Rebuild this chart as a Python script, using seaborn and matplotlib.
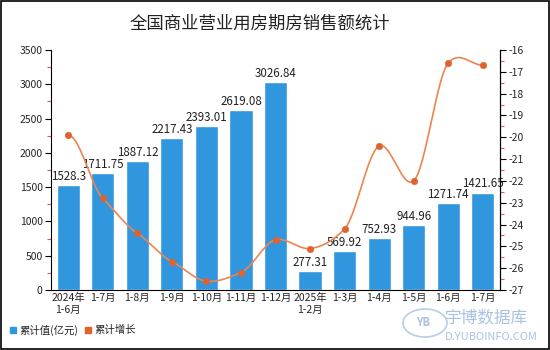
import numpy as np
import pandas as pd
import seaborn as sns
import matplotlib
matplotlib.use("Agg")
import matplotlib.pyplot as plt
from matplotlib.patches import Rectangle
from matplotlib.ticker import MultipleLocator

categories = ["2024年\n1-6月", "1-7月", "1-8月", "1-9月", "1-10月", "1-11月", "1-12月",
              "2025年\n1-2月", "1-3月", "1-4月", "1-5月", "1-6月", "1-7月"]
values = [1528.3, 1711.75, 1887.12, 2217.43, 2393.01, 2619.08, 3026.84,
          277.31, 569.92, 752.93, 944.96, 1271.74, 1421.65]
value_labels = ["1528.3", "1711.75", "1887.12", "2217.43", "2393.01", "2619.08", "3026.84",
                "277.31", "569.92", "752.93", "944.96", "1271.74", "1421.65"]
growth = [-19.9, -22.8, -24.4, -25.7, -26.6, -26.2, -24.7,
          -25.1, -24.2, -20.4, -22.0, -16.6, -16.7]

sns.set_theme(style="white")
plt.rcParams['font.family'] = ['Noto Sans CJK SC', 'DejaVu Sans']
plt.rcParams['axes.unicode_minus'] = False

BAR = "#3096de"
LINE = "#ec8452"
MARK = "#e0622f"
MINOR = "#e05555"

fig = plt.figure(figsize=(5.5, 3.5), dpi=100)
ax = fig.add_axes([51/550, 1-290/350, (500-51)/550, 240/350])

keys = [f"c{i:02d}" for i in range(len(categories))]
df = pd.DataFrame({"key": keys, "val": values})
sns.barplot(data=df, x="key", y="val", order=keys, ax=ax, color=BAR, width=0.67,
            saturation=1, errorbar=None)
ax.set_xticks(range(len(categories)))
ax.set_xticklabels(categories)
ax.set_xlabel("")
ax.set_ylabel("")
ax.set_ylim(0, 3500)
ax.set_xlim(-0.5, len(categories) - 0.5)
ax.yaxis.set_major_locator(MultipleLocator(500))
ax.yaxis.set_minor_locator(MultipleLocator(250))
ax.tick_params(axis="y", which="major", length=4, width=0.8, color="black",
               labelsize=7.5, pad=2, left=True)
ax.tick_params(axis="y", which="minor", length=3, width=0.8, color=MINOR, left=True)
ax.tick_params(axis="x", length=0, labelsize=7.5, pad=2)
ax.spines["top"].set_visible(False)
for s in ["left", "bottom", "right"]:
    ax.spines[s].set_color("black")
    ax.spines[s].set_linewidth(0.8)

for p, lab in zip(ax.patches, value_labels):
    ax.text(p.get_x() + p.get_width() / 2, p.get_height() + 30, lab,
            ha="center", va="bottom", fontsize=8.3, color="#222222")

ax2 = ax.twinx()
ax2.set_ylim(-27, -16)
ax2.yaxis.set_major_locator(MultipleLocator(1))
ax2.yaxis.set_minor_locator(MultipleLocator(0.5))
ax2.tick_params(axis="y", which="major", length=4, width=0.8, color="black",
                labelsize=7.5, pad=2, right=True)
ax2.tick_params(axis="y", which="minor", length=3, width=0.8, color=MINOR, right=True)
for s in ["top", "left", "bottom"]:
    ax2.spines[s].set_visible(False)
ax2.spines["right"].set_color("black")
ax2.spines["right"].set_linewidth(0.8)
ax2.grid(False)

# smooth curve through the points (cardinal spline with reduced tension), computed from the data
x = np.arange(len(growth), dtype=float)
y = np.array(growth, dtype=float)
k = 0.7
m = np.zeros_like(y)
m[1:-1] = k * (y[2:] - y[:-2]) / 2
xs, ys = [], []
t = np.linspace(0, 1, 24)
h00 = 2*t**3 - 3*t**2 + 1
h10 = t**3 - 2*t**2 + t
h01 = -2*t**3 + 3*t**2
h11 = t**3 - t**2
for i in range(len(y) - 1):
    xs.extend(x[i] + t)
    ys.extend(h00*y[i] + h10*m[i] + h01*y[i+1] + h11*m[i+1])
ax2.plot(xs, ys, color=LINE, lw=1.2, zorder=3)
sns.scatterplot(x=x, y=y, ax=ax2, color=MARK, s=22, edgecolor=MARK, zorder=4, legend=False)
ax2.set_xlim(-0.5, len(categories) - 0.5)

fig.text(260/550, 1-24/350, "全国商业营业用房期房销售额统计", ha="center", va="center",
         fontsize=12.5, color="#222222")

# legend
fig.patches.append(Rectangle((10/550, 1-333/350), 6/550, 6/350, transform=fig.transFigure,
                             color=BAR, figure=fig))
fig.text(19/550, 1-330/350, "累计值(亿元)", ha="left", va="center", fontsize=7.5, color="#222222")
fig.patches.append(Rectangle((85/550, 1-333/350), 6/550, 6/350, transform=fig.transFigure,
                             color=MARK, figure=fig))
fig.text(94/550, 1-330/350, "累计增长", ha="left", va="center", fontsize=7.5, color="#222222")

# watermark
fig.patches.append(plt.Circle((425/550, 1-323/350), 0.04, transform=fig.transFigure,
                              fill=False, ec="#b9cde6", lw=1.2, figure=fig))
fig.text(423/550, 1-323/350, "YB", ha="center", va="center", fontsize=8, color="#a9c2e2",
         style="italic", weight="bold")
fig.text(445/550, 1-318/350, "宇博数据库", ha="left", va="center", fontsize=12, color="#a9c2e2")
fig.text(445/550, 1-337/350, "D.YUBOINFO.COM", ha="left", va="center", fontsize=8, color="#a9c2e2")

# figure border
fig.patches.append(Rectangle((0.001, 0.002), 0.997, 0.995, transform=fig.transFigure,
                             fill=False, ec="black", lw=1.2, figure=fig))

fig.savefig("out.png", dpi=100)
